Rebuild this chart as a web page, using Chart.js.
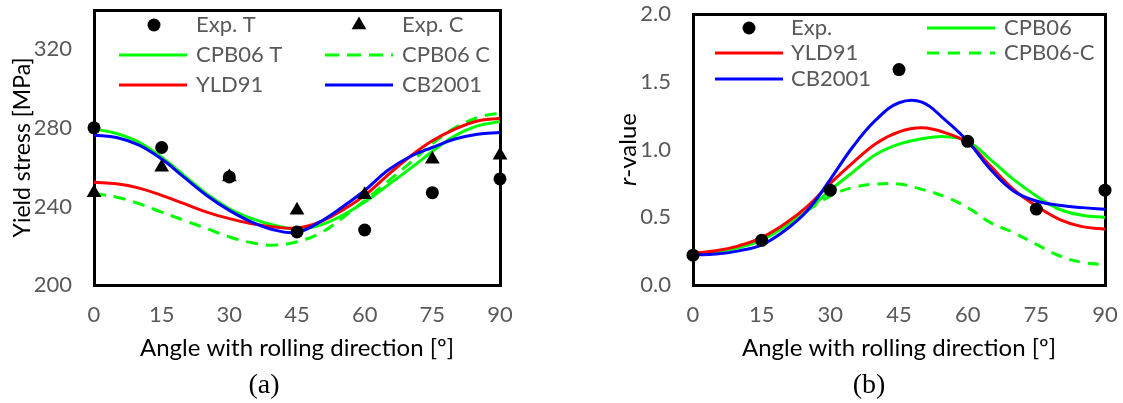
<!DOCTYPE html>
<html><head><meta charset="utf-8">
<script src="https://cdn.jsdelivr.net/npm/chart.js@4.4.1/dist/chart.umd.min.js"></script>
<style>
html,body{margin:0;padding:0;background:#fff;}
#wrap{position:relative;width:1123px;height:403px;overflow:hidden;}
.box{position:absolute;top:0;height:403px;}
#boxA{left:0;width:560px;}
#boxB{left:560px;width:563px;}
.box canvas{position:absolute;left:0;top:0;z-index:1;}
.frame{position:absolute;border:3px solid #000;box-sizing:border-box;pointer-events:none;z-index:0;}
</style></head><body>
<div id="wrap">
<div class="box" id="boxA"><div class="frame" id="fA"></div><canvas id="cA" width="560" height="403"></canvas></div>
<div class="box" id="boxB"><div class="frame" id="fB"></div><canvas id="cB" width="563" height="403"></canvas></div>
</div>
<script>
// ---------- data ----------
const expAngles = [0, 15, 30, 45, 60, 75, 90];
const curveAngles = [0,5,10,15,20,25,30,35,40,45,50,55,60,65,70,75,80,85,90];

// (a) yield stress [MPa]
const expT = [280, 270, 255, 227, 228, 247, 254];
const expC = [247, 260, 255, 238, 246, 264, 266];
const cpb06T = [279.5,277.1,272.6,265.0,255.7,246.4,238.8,233.8,230.4,228.5,230.4,235.4,242.2,250.6,259.1,268.0,276.0,281.0,283.2];
const cpb06C = [246.5,244.7,241.4,237.1,232.9,228.7,224.5,221.5,220.3,222.0,226.2,234.0,243.0,252.5,262.0,272.0,280.0,285.2,287.7];
const yld91A = [252.3,251.5,249.3,245.6,241.4,237.1,233.8,231.2,229.5,229.0,232.0,238.0,245.6,255.7,265.3,273.4,279.3,283.5,284.9];
const cb2001A = [276.3,275.1,271.2,264.1,254.8,245.6,238.0,232.0,228.0,226.8,232.0,239.6,248.1,258.2,265.3,270.0,274.3,276.8,277.6];
const yTicksA = [200, 240, 280, 320];

// (b) r-value
const expR = [0.22, 0.33, 0.70, 1.59, 1.06, 0.56, 0.70];
const cpb06R = [0.228,0.24,0.277,0.331,0.43,0.55,0.70,0.835,0.965,1.04,1.08,1.095,1.061,0.926,0.779,0.657,0.559,0.515,0.498];
const cpb06CR = [null,null,null,null,null,0.55,0.657,0.72,0.745,0.745,0.706,0.652,0.571,0.46,0.387,0.30,0.216,0.167,0.15];
const yld91R = [0.235,0.252,0.289,0.35,0.45,0.58,0.75,0.905,1.045,1.13,1.16,1.125,1.049,0.877,0.706,0.583,0.485,0.431,0.412];
const cb2001R = [0.223,0.228,0.252,0.296,0.40,0.55,0.78,1.024,1.22,1.345,1.35,1.22,1.061,0.853,0.694,0.62,0.588,0.571,0.559];
const yTicksB = [0, 0.5, 1.0, 1.5, 2.0];

// ---------- helpers ----------
function pts(xs, ys) {
  const out = [];
  xs.forEach((x, i) => { if (ys[i] !== null && ys[i] !== undefined) out.push({x: x, y: ys[i]}); });
  return out;
}
function lineDs(label, xs, ys, color, dash, order) {
  return {label, data: pts(xs, ys), borderColor: color, backgroundColor: color, borderWidth: 3,
    borderDash: dash || [], pointRadius: 0, tension: 0.4, fill: false, order: order};
}
function markDs(label, xs, ys, style, radius) {
  return {label, data: pts(xs, ys), showLine: false, pointStyle: style, pointRadius: radius,
    pointBackgroundColor: '#000', pointBorderColor: '#000', pointBorderWidth: 0, clip: false, order: 0};
}
const GRAY = '#595959';
const FONT = 'Lato';
const TICK_SIZE = 22;
const LEG_SIZE = 22;
const TITLE_SIZE = 24;

function placeFrame(chart, id) {
  const a = chart.chartArea;
  const f = document.getElementById(id);
  f.style.left = (a.left - 1.5) + 'px';
  f.style.top = (a.top - 1.5) + 'px';
  f.style.width = (a.right - a.left + 3) + 'px';
  f.style.height = (a.bottom - a.top + 3) + 'px';
}

function decoPlugin(opts) {
  return {
    id: 'deco',
    afterDraw(chart) {
      const ctx = chart.ctx;
      const a = chart.chartArea;
      ctx.save();
      ctx.textBaseline = 'middle'; ctx.textAlign = 'left';
      opts.legend.forEach(it => {
        if (it.type === 'circle') {
          ctx.beginPath(); ctx.arc(it.mx, it.y, 6.5, 0, 2 * Math.PI);
          ctx.fillStyle = '#000'; ctx.fill();
        } else if (it.type === 'triangle') {
          const r = 8.5;
          ctx.beginPath();
          ctx.moveTo(it.mx, it.y - r);
          ctx.lineTo(it.mx + r * Math.sqrt(3) / 2, it.y + r / 2);
          ctx.lineTo(it.mx - r * Math.sqrt(3) / 2, it.y + r / 2);
          ctx.closePath(); ctx.fillStyle = '#000'; ctx.fill();
        } else {
          ctx.beginPath(); ctx.setLineDash(it.dash || []);
          ctx.strokeStyle = it.color; ctx.lineWidth = 3;
          ctx.moveTo(it.x1, it.y); ctx.lineTo(it.x2, it.y); ctx.stroke();
          ctx.setLineDash([]);
        }
        ctx.font = LEG_SIZE + 'px ' + FONT; ctx.fillStyle = GRAY;
        ctx.fillText(it.label, it.tx, it.y);
      });
      if (opts.italicTitle) {
        const t = opts.italicTitle;
        ctx.save();
        ctx.translate(t.x, (a.top + a.bottom) / 2);
        ctx.rotate(-Math.PI / 2);
        ctx.fillStyle = '#000';
        ctx.font = 'italic ' + TITLE_SIZE + 'px ' + FONT;
        const w1 = ctx.measureText(t.italic).width;
        ctx.font = TITLE_SIZE + 'px ' + FONT;
        const w2 = ctx.measureText(t.rest).width;
        const x0 = -(w1 + w2) / 2;
        ctx.font = 'italic ' + TITLE_SIZE + 'px ' + FONT; ctx.fillText(t.italic, x0, 0);
        ctx.font = TITLE_SIZE + 'px ' + FONT; ctx.fillText(t.rest, x0 + w1, 0);
        ctx.restore();
      }
      ctx.font = '28px "Liberation Serif"'; ctx.fillStyle = '#000'; ctx.textAlign = 'center';
      ctx.fillText(opts.caption, opts.capX, opts.capY);
      ctx.restore();
    }
  };
}

function xScale() {
  return {
    type: 'linear', min: 0, max: 90,
    grid: {display: false, drawTicks: false}, border: {display: false},
    ticks: {stepSize: 15, color: GRAY, font: {family: FONT, size: TICK_SIZE}, padding: 17, maxRotation: 0},
    title: {display: true, text: 'Angle with rolling direction [º]', color: '#000',
      font: {family: FONT, size: TITLE_SIZE}, padding: {top: 0, bottom: 40}},
    afterFit(s) { s.height = 118; s.paddingLeft = 0; s.paddingRight = 0; }
  };
}

// ---------- chart (a) ----------
const chartA = new Chart(document.getElementById('cA'), {
  type: 'line',
  data: {datasets: [
    markDs('Exp. T', expAngles, expT, 'circle', 6.5),
    markDs('Exp. C', expAngles, expC, 'triangle', 8.5),
    lineDs('CB2001', curveAngles, cb2001A, '#0000FF', null, 1),
    lineDs('YLD91', curveAngles, yld91A, '#FF0000', null, 2),
    lineDs('CPB06 T', curveAngles, cpb06T, '#00FF00', null, 3),
    lineDs('CPB06 C', curveAngles, cpb06C, '#00FF00', [12, 8], 4)
  ]},
  options: {
    responsive: false, animation: false, events: [],
    layout: {padding: {top: 10, right: 60, left: 0, bottom: 0}},
    plugins: {legend: {display: false}, tooltip: {enabled: false}},
    scales: {
      x: xScale(),
      y: {
        type: 'linear', min: 200, max: 340,
        grid: {display: false, drawTicks: false}, border: {display: false},
        afterBuildTicks(s) { s.ticks = yTicksA.map(v => ({value: v})); },
        ticks: {color: GRAY, font: {family: FONT, size: TICK_SIZE}, padding: 22},
        title: {display: true, text: 'Yield stress [MPa]', color: '#000',
          font: {family: FONT, size: 23}, padding: {top: 9, bottom: 0}},
        afterFit(s) { s.width = 94; s.paddingTop = 0; s.paddingBottom = 0; }
      }
    }
  },
  plugins: [decoPlugin({
    legend: [
      {type: 'circle', mx: 154, y: 25, tx: 196, label: 'Exp. T'},
      {type: 'triangle', mx: 359, y: 25, tx: 402, label: 'Exp. C'},
      {type: 'line', x1: 119, x2: 187, y: 55, color: '#00FF00', tx: 196, label: 'CPB06 T'},
      {type: 'line', x1: 325, x2: 393, y: 55, color: '#00FF00', dash: [14, 8], tx: 402, label: 'CPB06 C'},
      {type: 'line', x1: 119, x2: 187, y: 85, color: '#FF0000', tx: 196, label: 'YLD91'},
      {type: 'line', x1: 325, x2: 393, y: 85, color: '#0000FF', tx: 402, label: 'CB2001'}
    ],
    caption: '(a)', capX: 264, capY: 386
  })]
});

// ---------- chart (b) ----------
const chartB = new Chart(document.getElementById('cB'), {
  type: 'line',
  data: {datasets: [
    markDs('Exp.', expAngles, expR, 'circle', 6.5),
    lineDs('CB2001', curveAngles, cb2001R, '#0000FF', null, 1),
    lineDs('YLD91', curveAngles, yld91R, '#FF0000', null, 2),
    lineDs('CPB06', curveAngles, cpb06R, '#00FF00', null, 3),
    lineDs('CPB06-C', curveAngles, cpb06CR, '#00FF00', [11, 8], 4)
  ]},
  options: {
    responsive: false, animation: false, events: [],
    layout: {padding: {top: 14, right: 18, left: 0, bottom: 0}},
    plugins: {legend: {display: false}, tooltip: {enabled: false}},
    scales: {
      x: xScale(),
      y: {
        type: 'linear', min: 0, max: 2,
        grid: {display: false, drawTicks: false}, border: {display: false},
        afterBuildTicks(s) { s.ticks = yTicksB.map(v => ({value: v})); },
        ticks: {color: GRAY, font: {family: FONT, size: TICK_SIZE}, padding: 22,
          callback: v => Number(v).toFixed(1)},
        title: {display: false},
        afterFit(s) { s.width = 133; s.paddingTop = 0; s.paddingBottom = 0; }
      }
    }
  },
  plugins: [decoPlugin({
    legend: [
      {type: 'circle', mx: 189, y: 28, tx: 231, label: 'Exp.'},
      {type: 'line', x1: 367, x2: 435, y: 28, color: '#00FF00', tx: 444, label: 'CPB06'},
      {type: 'line', x1: 155, x2: 223, y: 53, color: '#FF0000', tx: 231, label: 'YLD91'},
      {type: 'line', x1: 367, x2: 435, y: 53, color: '#00FF00', dash: [12, 9], tx: 444, label: 'CPB06-C'},
      {type: 'line', x1: 155, x2: 223, y: 79, color: '#0000FF', tx: 231, label: 'CB2001'}
    ],
    italicTitle: {x: 68, italic: 'r', rest: '-value'},
    caption: '(b)', capX: 309, capY: 386
  })]
});

placeFrame(chartA, 'fA');
placeFrame(chartB, 'fB');
</script>
</body></html>
